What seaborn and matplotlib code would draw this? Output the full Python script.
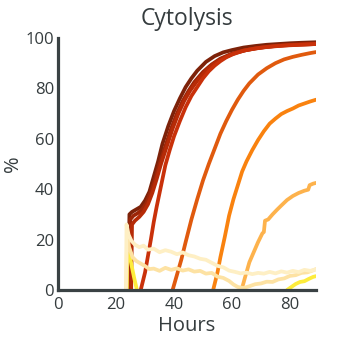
import matplotlib
matplotlib.use("Agg")
import matplotlib.pyplot as plt
import seaborn as sns
import pandas as pd

# Cytolysis time courses (hours, percent lysed), one list pair per condition
s1_h = [24.3, 24.6, 25.5, 27, 28.5, 30, 31.5, 33, 34.5, 36, 38, 40, 42, 44, 46, 48, 51, 54, 57, 60, 64, 68, 72, 76, 80, 84, 89]
s1_v = [0, 30, 31, 32, 33, 35.5, 39, 45, 51, 58, 65, 71, 76, 80.5, 84, 87, 90.5, 92.8, 94.3, 95.2, 96.2, 96.8, 97.3, 97.6, 97.9, 98.1, 98.3]

s2_h = [24.6, 24.9, 26, 27.5, 29, 30.5, 32, 33.5, 35, 37, 39, 41, 43, 45, 47, 50, 53, 56, 60, 64, 68, 72, 76, 80, 84, 89]
s2_v = [0, 28, 29.5, 30.5, 32, 34.5, 39, 44, 50, 57, 64, 70, 75, 79, 82.5, 86.5, 89.5, 91.8, 93.8, 95, 95.9, 96.5, 97, 97.3, 97.6, 97.8]

s3_h = [25.2, 25.5, 26.5, 28, 29.5, 31, 32.5, 34, 35.5, 37.5, 39.5, 41.5, 43.5, 45.5, 48, 51, 54, 57, 61, 65, 70, 75, 80, 85, 89]
s3_v = [0, 26, 27.5, 29, 31, 34, 38.5, 44, 50, 57, 64, 70, 75, 79, 83, 87, 90, 92, 94, 95.2, 96.2, 96.8, 97.2, 97.4, 97.6]

s4_h = [28.5, 30, 31, 32, 33, 34, 35, 36, 37, 38.5, 40, 42, 44, 46, 48, 50, 52, 54, 56, 58, 60, 64, 68, 72, 76, 80, 84, 89]
s4_v = [0, 7, 13.5, 20, 27, 33, 38.5, 44, 49.5, 55.5, 61, 67, 72.5, 77, 80.5, 84, 86.8, 89, 90.8, 92.3, 93.4, 95, 95.8, 96.4, 96.8, 97.1, 97.3, 97.6]

s5_h = [39.5, 41, 42.5, 44, 46, 48, 50, 52, 54, 56, 58, 60, 62, 64, 66, 69, 72, 75, 78, 81, 84, 87, 89]
s5_v = [0, 6, 12, 19, 28, 36, 43.5, 50, 56, 62, 67, 71.5, 75.5, 79, 82, 85.5, 88, 90, 91.5, 92.5, 93.3, 94, 94.4]

s6_h = [53.5, 55, 56, 57.5, 59, 60.5, 62, 63.5, 65, 67, 69, 71, 73, 75, 77, 79, 81, 83, 85, 87, 89]
s6_v = [0, 7, 13, 21, 29.5, 36, 41.5, 47, 51, 55.5, 59.5, 63, 66, 68, 69.8, 71, 72, 73.2, 74, 74.8, 75.5]

s7_h = [63.3, 64.5, 66, 67.5, 69, 70.5, 71, 71.4, 72.5, 74, 75.5, 77, 79, 81, 83, 85, 86.3, 86.8, 88, 89]
s7_v = [0, 5, 11, 15, 19, 22.5, 23, 27.5, 28, 30, 31.8, 33.5, 35.7, 37.3, 38.5, 39.4, 39.8, 41.6, 42.2, 42.5]

# yellow condition: early transient, then late rise
s8a_h = [23.7, 23.9, 24.5, 25.3, 26.2, 27.2]
s8a_v = [0, 19, 15, 10, 5, 0]
s8b_h = [79, 80.5, 82, 83.5, 85, 86.5, 88, 89]
s8b_v = [0, 1.2, 2.4, 3.2, 3.5, 4.4, 5.2, 5.5]

s9_h = [23.5, 23.8, 24.5, 25.7, 27, 28.5, 30, 31.5, 33, 35, 37, 39, 41, 43, 45, 47, 49, 51, 53, 55, 57, 59, 60.5, 62, 64, 66, 68, 70, 72, 74, 76, 78, 80, 82, 84, 86, 88, 89]
s9_v = [0, 22, 17, 13, 11.5, 10.5, 9.5, 8.3, 8.5, 7.6, 8.8, 8, 8.6, 7.7, 8.2, 7.3, 7.6, 6.5, 6.8, 5.3, 4.8, 3.6, 2.2, 1.2, 0.8, 1.5, 2.3, 2.6, 3.3, 3.2, 4.2, 4.6, 5.6, 5.9, 6.8, 7, 7.8, 8.3]

s10_h = [23.4, 23.6, 24.3, 25.3, 26.5, 28, 29.5, 31, 33, 35, 37, 39, 41, 43, 45, 47, 49, 51, 53, 55, 57, 59, 61, 63, 65, 67, 69, 71, 73, 75, 77, 79, 81, 83, 85, 87, 89]
s10_v = [0, 26, 22, 19.5, 18, 17, 17.6, 16, 16.4, 15, 15.8, 15.2, 14.2, 14.9, 13.8, 13.3, 12.4, 12, 10.8, 9.6, 9, 7.7, 7.2, 6.6, 6.9, 6.3, 6.8, 6.5, 7.2, 6.6, 7.4, 6.9, 7.6, 7.1, 8, 7.6, 8.2]

series = {
    "s1": (s1_h, s1_v), "s2": (s2_h, s2_v), "s3": (s3_h, s3_v), "s4": (s4_h, s4_v),
    "s5": (s5_h, s5_v), "s6": (s6_h, s6_v), "s7": (s7_h, s7_v),
    "s8a": (s8a_h, s8a_v), "s8b": (s8b_h, s8b_v),
    "s9": (s9_h, s9_v), "s10": (s10_h, s10_v),
}
colors = {
    "s1": "#7d2209", "s2": "#9c2608", "s3": "#b62b07", "s4": "#c9310a",
    "s5": "#e05a0e", "s6": "#f9820f", "s7": "#fdb24c", "s8a": "#fdec3c",
    "s8b": "#fdec3c", "s9": "#fde2a3", "s10": "#feefc4",
}

frames = [pd.DataFrame({"Hours": h, "pct": v, "cond": k}) for k, (h, v) in series.items()]
df = pd.concat(frames, ignore_index=True)

sns.set_theme(style="white")
plt.rcParams["font.family"] = ["Open Sans", "DejaVu Sans"]
text_c = "#353c3e"

fig = plt.figure(figsize=(3.42, 3.42), dpi=100)
ax = fig.add_axes([0.170, 0.152, 0.754, 0.737])

sns.lineplot(data=df, x="Hours", y="pct", hue="cond", palette=colors,
             hue_order=list(series.keys()), estimator=None, sort=False,
             linewidth=2.7, legend=False, ax=ax)

ax.set_xlim(0, 89)
ax.set_ylim(0, 100)
ax.set_xticks([0, 20, 40, 60, 80])
ax.set_yticks([0, 20, 40, 60, 80, 100])
sns.despine(ax=ax)
for side in ("left", "bottom"):
    ax.spines[side].set_color("#3a4244")
    ax.spines[side].set_linewidth(2.3)
    ax.spines[side].set_zorder(5)
ax.tick_params(length=0, labelsize=12, labelcolor=text_c)
ax.tick_params(axis="x", pad=5)
ax.tick_params(axis="y", pad=3)
ax.set_xlabel("Hours", fontsize=14.5, color=text_c, labelpad=2)
ax.set_ylabel("%", fontsize=14.5, color=text_c, labelpad=2)
ax.set_title("Cytolysis", fontsize=16.5, color=text_c, pad=9)

fig.savefig("out.png", dpi=100)
